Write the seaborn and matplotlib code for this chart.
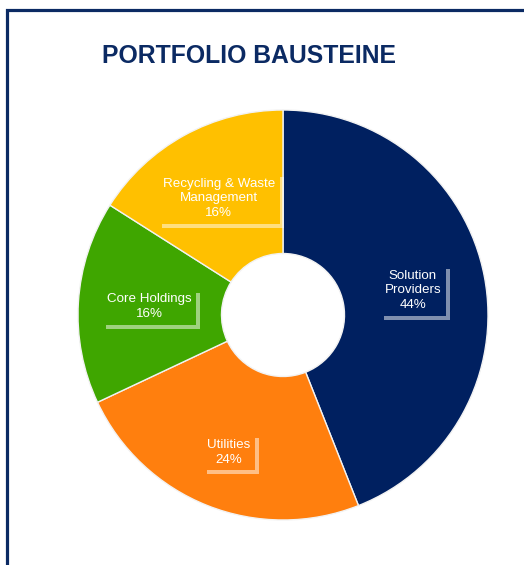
import matplotlib
matplotlib.use("Agg")
import matplotlib.pyplot as plt
import matplotlib.patheffects as pe
from matplotlib.patches import Rectangle
import numpy as np
import seaborn as sns

sns.set_theme(style="white")
plt.rcParams['font.family'] = ['Liberation Sans', 'DejaVu Sans']

title = "PORTFOLIO BAUSTEINE"
categories = ["Solution\nProviders", "Utilities", "Core Holdings", "Recycling & Waste\nManagement"]
values = [44, 24, 16, 16]
colors = ["#002060", "#FF7F0E", "#3FA600", "#FFC000"]
navy = "#0B2A63"

W, H = 524, 565
fig = plt.figure(figsize=(W / 100, H / 100), dpi=100)
fig.patch.set_facecolor("white")

cx, cy, R = 283, 315, 205
ax = fig.add_axes([(cx - R) / W, (H - cy - R) / H, 2 * R / W, 2 * R / H])
palette = sns.color_palette(colors)
wedges, _ = ax.pie(values, colors=palette, startangle=90, counterclock=False,
                   radius=1.0, wedgeprops=dict(width=0.70, edgecolor="#F2F2F2", linewidth=1.0))
for w in wedges:
    w.set_clip_on(False)
ax.set_xlim(-1, 1)
ax.set_ylim(-1, 1)
ax.set_aspect("equal")
ax.axis("off")

total = sum(values)
dists = [0.645, 0.72, 0.655, 0.65]
for w, cat, v, col, d in zip(wedges, categories, values, colors, dists):
    ang = np.deg2rad((w.theta1 + w.theta2) / 2)
    x, y = d * np.cos(ang), d * np.sin(ang)
    ax.text(x, y, f"{cat}\n{v / total * 100:.0f}%", ha="center", va="center",
            color="white", fontsize=9.6, linespacing=1.3,
            bbox=dict(boxstyle="square,pad=0.35", facecolor=col, edgecolor="none",
                      path_effects=[pe.SimplePatchShadow(offset=(3, -3), shadow_rgbFace="white", alpha=0.5),
                                    pe.Normal()]))

fig.text(249 / W, 1 - 56 / H, title, ha="center", va="center", fontsize=17.8,
         fontweight="bold", color=navy)

fig.add_artist(Rectangle((7 / W, -0.1), 1.2, 1 - 10 / H + 0.1, transform=fig.transFigure,
                         facecolor="none", edgecolor=navy, linewidth=2.3))

fig.savefig("out.png", dpi=100, facecolor="white")
